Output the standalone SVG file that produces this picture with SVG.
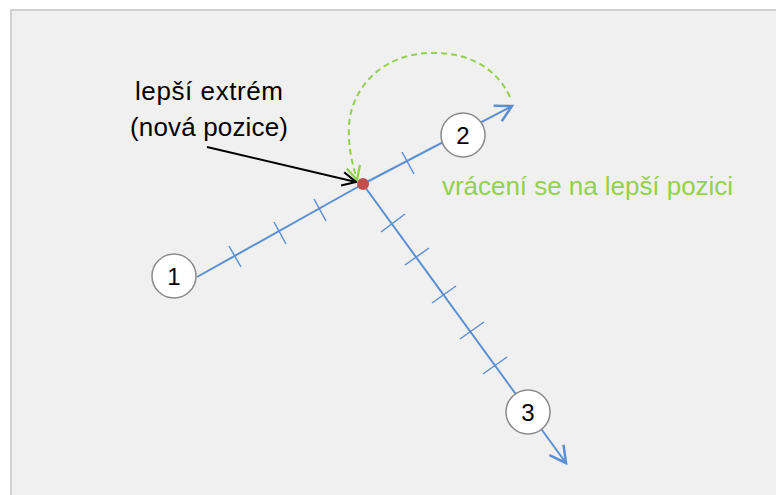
<svg xmlns="http://www.w3.org/2000/svg" width="776" height="495" viewBox="0 0 776 495">
<style>
.axis{stroke:#5b8fd3;stroke-width:2;fill:none}
.tick{stroke:#5b8fd3;stroke-width:1.5;fill:none}
.node circle{fill:#ffffff;stroke:#8a8a8a;stroke-width:1.5}
.node text{font-family:"Liberation Sans",Arial,sans-serif;font-size:24px;fill:#000;text-anchor:middle}
.lbl{font-family:"Liberation Sans",Arial,sans-serif;font-size:26px}
</style>
<defs>
<marker id="blueArr" markerUnits="userSpaceOnUse" markerWidth="20" markerHeight="20" refX="14" refY="8" orient="auto" viewBox="0 0 16 16">
<path d="M1,1 L14,8 L1,15" fill="none" stroke="#5b8fd3" stroke-width="2"/>
</marker>
<marker id="blackArr" markerUnits="userSpaceOnUse" markerWidth="16" markerHeight="16" refX="13" refY="7" orient="auto" viewBox="0 0 14 14">
<path d="M1,1 L13,7 L1,13" fill="none" stroke="#000" stroke-width="1.8"/>
</marker>
<marker id="greenArr" markerUnits="userSpaceOnUse" markerWidth="16" markerHeight="16" refX="13" refY="7" orient="auto" viewBox="0 0 14 14">
<path d="M1,1 L13,7 L1,13" fill="none" stroke="#92d050" stroke-width="2"/>
</marker>
</defs>
<rect x="0" y="0" width="776" height="495" fill="#ffffff"/>
<rect x="11" y="10" width="775" height="495" fill="#f0f0f0" stroke="#c4c4c4" stroke-width="1.5"/>

<g id="connectors">
<line class="axis" x1="197" y1="277" x2="363" y2="184"/>
<line class="axis" x1="363" y1="184" x2="512" y2="106" marker-end="url(#blueArr)"/>
<line class="axis" x1="365" y1="187" x2="566" y2="463" marker-end="url(#blueArr)"/>
<g class="tick">
<line x1="229" y1="246" x2="241" y2="267"/>
<line x1="274" y1="222" x2="286" y2="244"/>
<line x1="314" y1="199" x2="326" y2="221"/>
<line x1="402" y1="152" x2="414" y2="174"/>
<line x1="381" y1="232" x2="405" y2="214"/>
<line x1="405" y1="265" x2="429" y2="248"/>
<line x1="432" y1="303" x2="456" y2="286"/>
<line x1="460" y1="339" x2="484" y2="322"/>
<line x1="483" y1="374" x2="507" y2="357"/>
</g>
<path d="M510,97 C495,65 465,52 430,53 C385,54 352,85 349,125 C348,148 352,162 357,180" fill="none" stroke="#92d050" stroke-width="2" stroke-dasharray="6,4" marker-end="url(#greenArr)"/>
<line x1="207" y1="147" x2="356" y2="182" stroke="#000" stroke-width="1.8" marker-end="url(#blackArr)"/>
</g>

<g id="dot"><circle cx="363" cy="184" r="6" fill="#c0504d"/></g>

<g id="node1" class="node"><circle cx="174" cy="276" r="22"/><text x="174" y="285">1</text></g>
<g id="node2" class="node"><circle cx="463" cy="135" r="22"/><text x="463" y="144">2</text></g>
<g id="node3" class="node"><circle cx="528" cy="412" r="22"/><text x="528" y="421">3</text></g>

<g id="label-extrem">
<text class="lbl" x="209" y="100" text-anchor="middle" fill="#000" textLength="148">lepší extrém</text>
<text class="lbl" x="209" y="136" text-anchor="middle" fill="#000" textLength="158">(nová pozice)</text>
</g>
<g id="label-return">
<text class="lbl" x="442" y="195" fill="#92d050" textLength="291">vrácení se na lepší pozici</text>
</g>
</svg>
